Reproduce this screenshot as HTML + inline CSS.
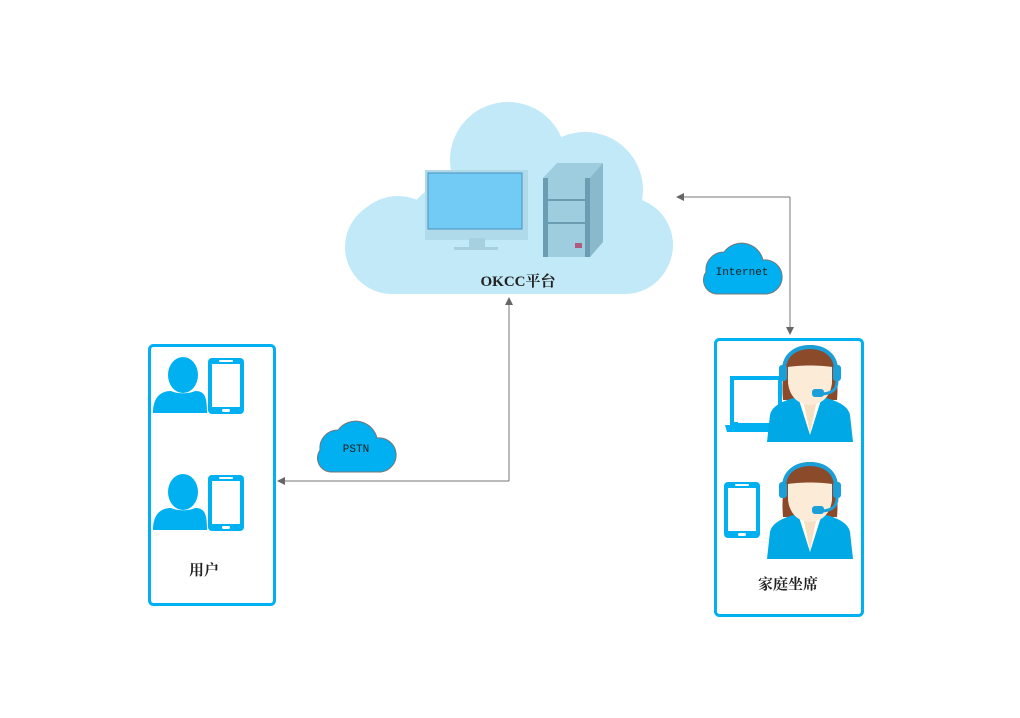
<!DOCTYPE html>
<html><head><meta charset="utf-8"><style>
html,body{margin:0;padding:0;background:#fff;}
svg{display:block;}
text{font-family:"Liberation Serif","Noto Serif CJK SC",serif;}
</style></head><body>
<svg width="1020" height="718" viewBox="0 0 1020 718" xmlns="http://www.w3.org/2000/svg">
<defs>
<marker id="ar" markerWidth="8" markerHeight="8" refX="7" refY="4" orient="auto" markerUnits="userSpaceOnUse">
<path d="M0,0 L8,4 L0,8 Z" fill="#666"/></marker>
<g id="person">
<ellipse cx="0" cy="0" rx="15" ry="18" fill="#00b0f0"/>
<path d="M-30,38 C-30,22 -22,16 -12,16 C-6,19 6,19 12,16 C22,16 24,22 24,38 Z" fill="#00b0f0"/>
</g>
<g id="phone">
<rect x="0" y="0" width="36" height="56" rx="4" fill="#00b0f0"/>
<rect x="4" y="6" width="28" height="43" fill="#fff"/>
<rect x="11" y="2" width="14" height="2" rx="1" fill="#fff"/>
<rect x="14" y="51" width="8" height="3" rx="1.5" fill="#fff"/>
</g>
<g id="agent">
<path d="M-27,55 C-30,20 -20,0 0,0 C20,0 30,20 27,55 Z" fill="#8b4a2a"/>
<path d="M-43,97 L-40,70 C-38,60 -25,55 -12,52 L12,52 C25,55 38,60 40,70 L43,97 Z" fill="#00a9e6"/>
<path d="M-12,52 L0,90 L12,52 Z" fill="#fff"/>
<path d="M-8,50 L0,88 L8,50 Z" fill="#f6dfc3"/>
<path d="M-22,22 L-22,38 C-20,55 -8,60 0,60 C8,60 20,55 22,38 L22,22 C10,20 -10,20 -22,22 Z" fill="#fcebd7"/>
<path d="M-26,30 C-28,8 -12,2 0,2 C12,2 28,8 26,30" fill="none" stroke="#1a9fd8" stroke-width="4"/>
<rect x="-31" y="20" width="8" height="16" rx="3" fill="#1a9fd8"/>
<rect x="23" y="20" width="8" height="16" rx="3" fill="#1a9fd8"/>
<path d="M27,36 C27,46 20,49 10,49" fill="none" stroke="#1a9fd8" stroke-width="3"/>
<rect x="2" y="44" width="12" height="8" rx="3" fill="#1a9fd8"/>
</g>
</defs>

<!-- main cloud -->
<g fill="#c2e9f8">
<rect x="345" y="200" width="327" height="94" rx="47"/>
<circle cx="398" cy="245" r="49"/>
<circle cx="625" cy="245" r="48"/>
<circle cx="508" cy="160" r="58"/>
<circle cx="585" cy="190" r="58"/>
<circle cx="455" cy="232" r="50"/>
</g>
<!-- monitor -->
<rect x="425" y="170" width="103" height="70" fill="#aedaea"/>
<rect x="428" y="173" width="94" height="56" fill="#72cbf5" stroke="#4a90c0" stroke-width="1"/>
<rect x="469" y="238" width="16" height="9" fill="#a6d0df"/>
<rect x="454" y="247" width="44" height="3" fill="#a6d0df"/>
<!-- server -->
<path d="M543,178 L557,163 L603,163 L603,242 L590,257 L543,257 Z" fill="#9fcde0"/>
<path d="M590,178 L603,163 L603,242 L590,257 Z" fill="#8ab9cc"/>
<rect x="543" y="178" width="5" height="79" fill="#6a9cb2"/>
<rect x="585" y="178" width="5" height="79" fill="#6a9cb2"/>
<rect x="548" y="199" width="37" height="2" fill="#6a9cb2"/>
<rect x="548" y="222" width="37" height="2" fill="#6a9cb2"/>
<rect x="575" y="243" width="7" height="5" fill="#b05a80"/>
<text x="518" y="286" font-size="15" font-weight="bold" text-anchor="middle" fill="#222">OKCC平台</text>

<!-- connectors -->
<polyline points="509,481 509,298" fill="none" stroke="#777" stroke-width="1" marker-end="url(#ar)"/>
<polyline points="509,481 278,481" fill="none" stroke="#777" stroke-width="1" marker-end="url(#ar)"/>
<polyline points="790,197 677,197" fill="none" stroke="#777" stroke-width="1" marker-end="url(#ar)"/>
<polyline points="790,197 790,334" fill="none" stroke="#777" stroke-width="1" marker-end="url(#ar)"/>

<!-- small clouds -->
<path d="M332,472 A14,14 0 0 1 320,450 A18,18 0 0 1 338,430 A22,22 0 0 1 377,438 A17,17 0 0 1 381,472 Z" fill="#00b0f0" stroke="#777" stroke-width="1"/>
<text x="356" y="452" font-size="11" text-anchor="middle" fill="#222" style="font-family:'Liberation Mono',monospace">PSTN</text>
<path d="M718,294 A14,14 0 0 1 706,272 A18,18 0 0 1 724,252 A22,22 0 0 1 763,260 A17,17 0 0 1 767,294 Z" fill="#00b0f0" stroke="#777" stroke-width="1"/>
<text x="742" y="275" font-size="11" text-anchor="middle" fill="#222" style="font-family:'Liberation Mono',monospace">Internet</text>

<!-- user box -->
<rect x="149.5" y="345.5" width="125" height="259" rx="4" fill="none" stroke="#00b0f0" stroke-width="3"/>
<use href="#person" x="183" y="375"/>
<use href="#phone" x="208" y="358"/>
<use href="#person" x="183" y="492"/>
<use href="#phone" x="208" y="475"/>
<text x="204" y="575" font-size="15" font-weight="bold" text-anchor="middle" fill="#222">用户</text>

<!-- agent box -->
<rect x="715.5" y="339.5" width="147" height="276" rx="4" fill="none" stroke="#00b0f0" stroke-width="3"/>
<path d="M732,378 L780,378 L780,425 L736,425 L736,424 L732,424 Z" fill="none" stroke="#00b0f0" stroke-width="4"/>
<path d="M725,425 L780,425 L780,432 L727,432 Z" fill="#00b0f0"/>
<use href="#agent" x="810" y="345"/>
<use href="#phone" x="724" y="482"/>
<use href="#agent" x="810" y="462"/>
<text x="788" y="589" font-size="15" font-weight="bold" text-anchor="middle" fill="#222">家庭坐席</text>
</svg>
</body></html>
